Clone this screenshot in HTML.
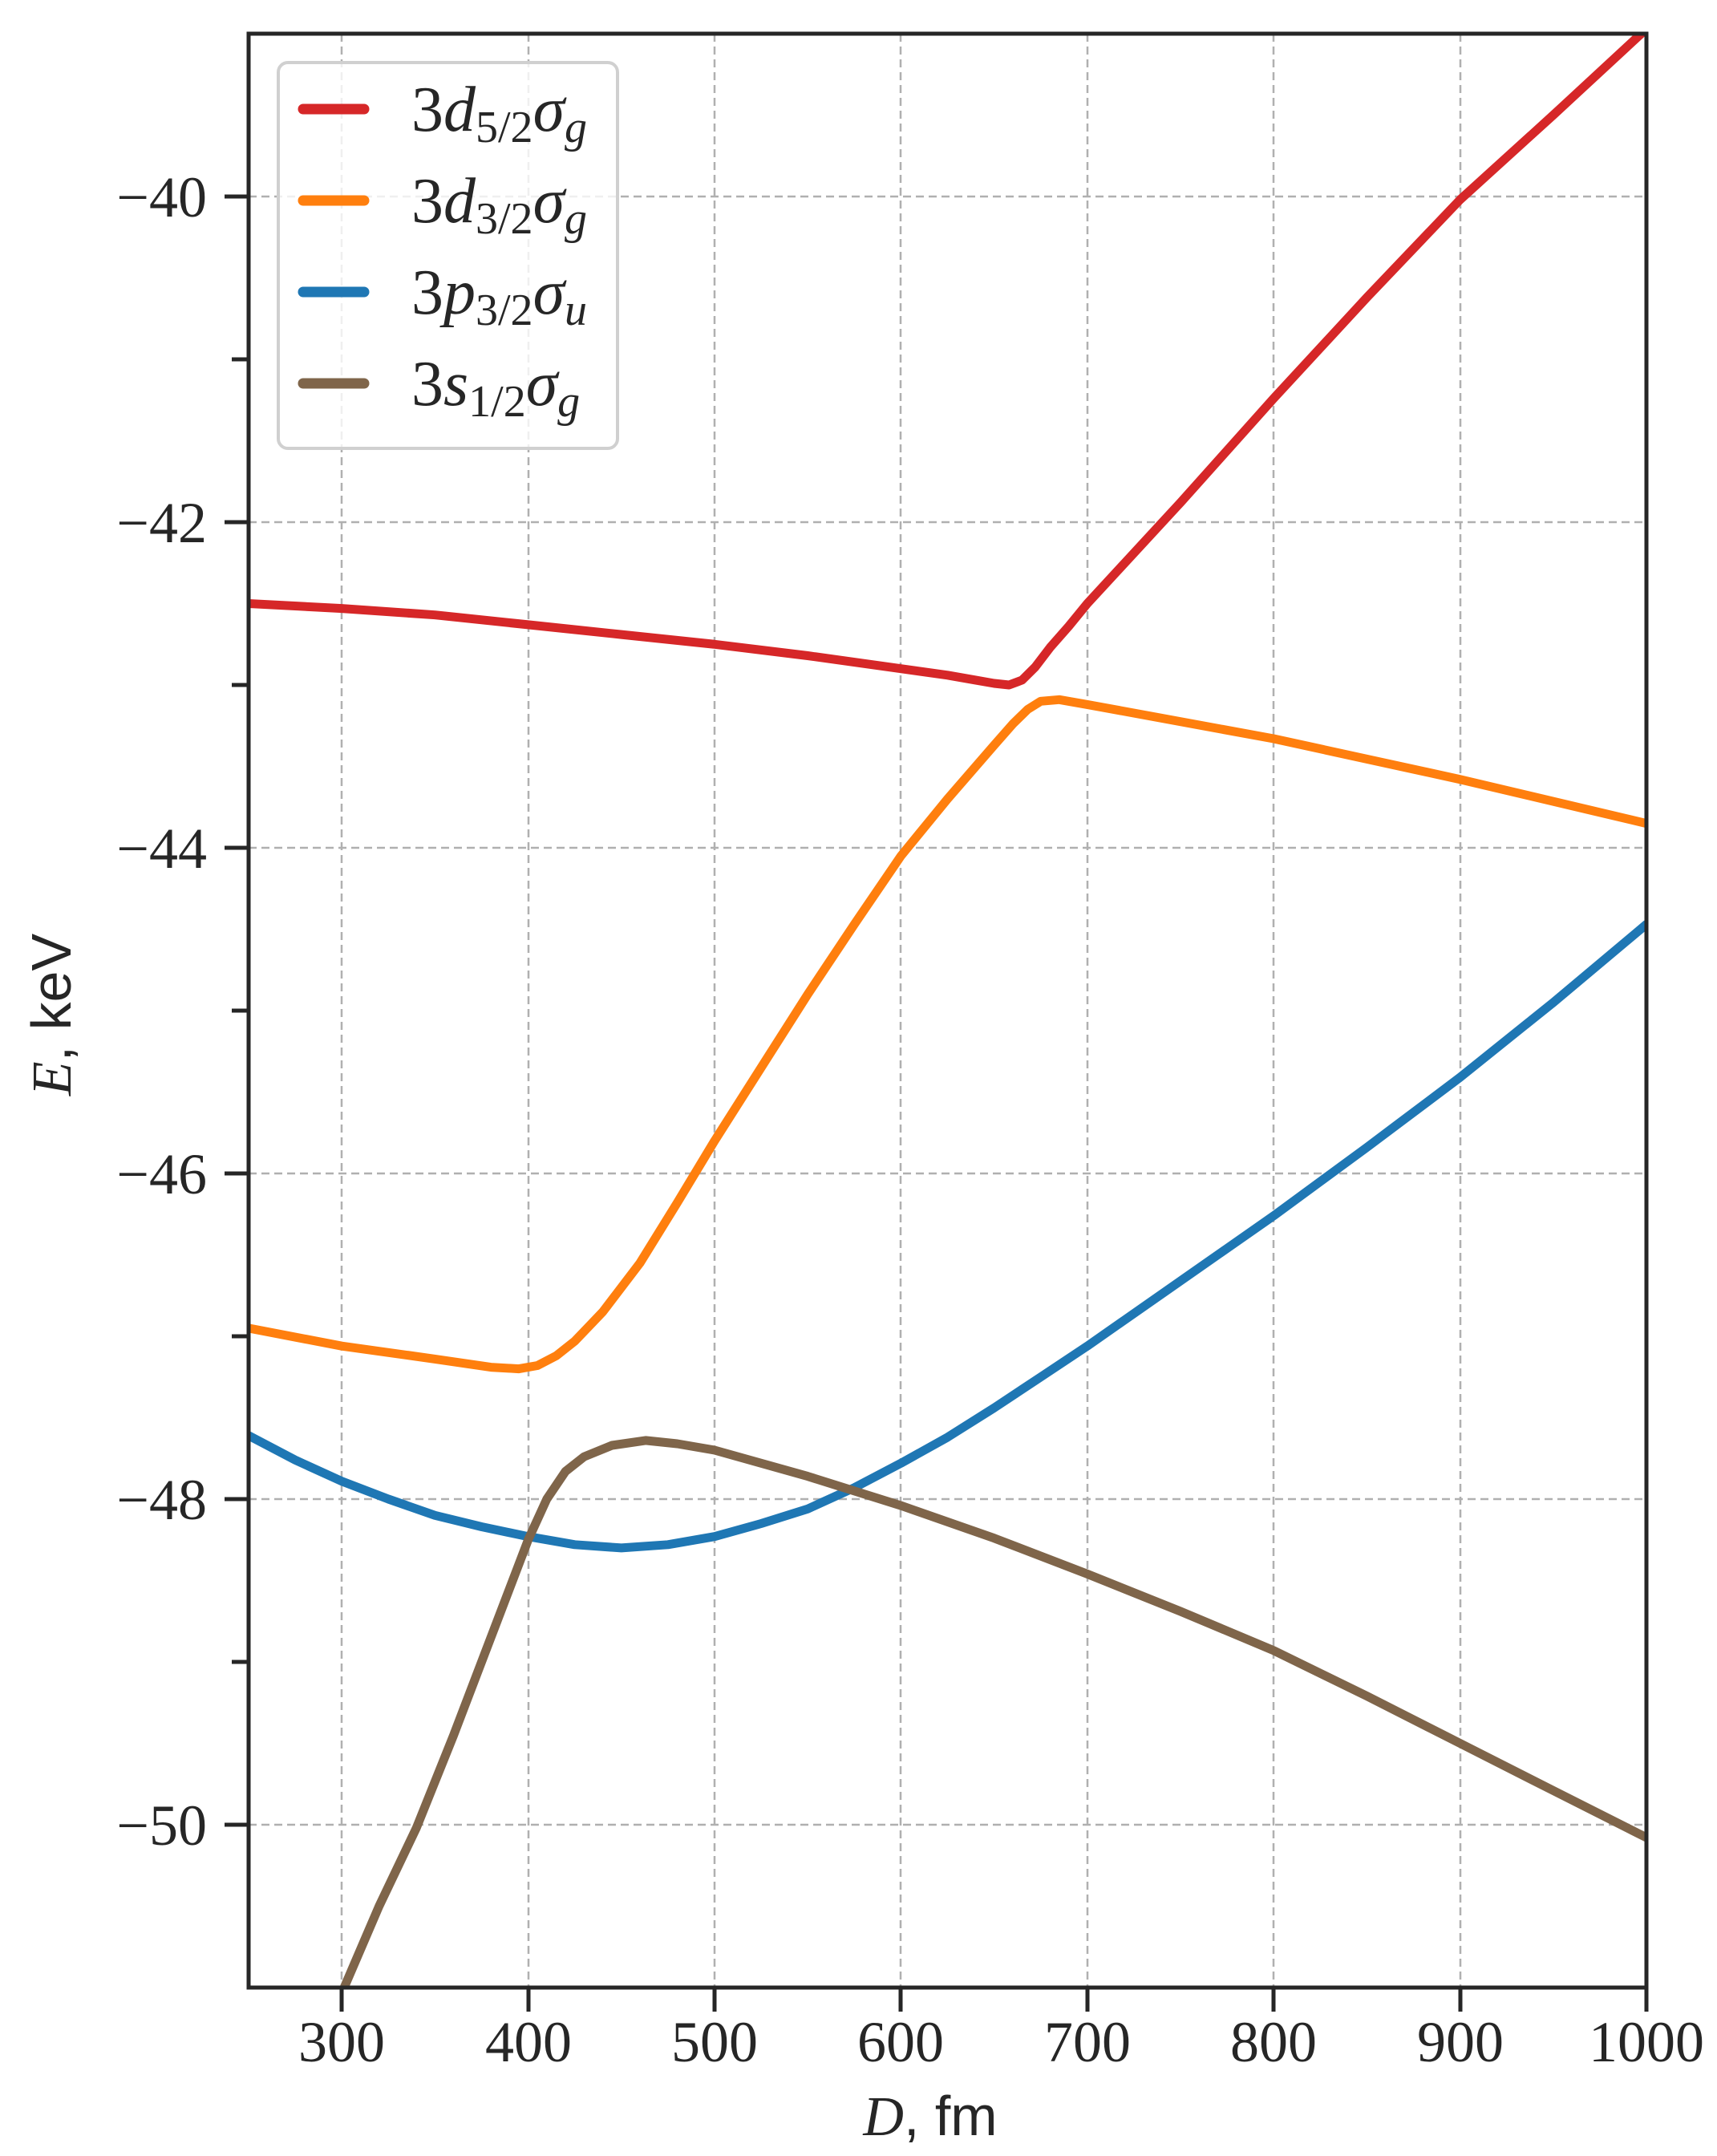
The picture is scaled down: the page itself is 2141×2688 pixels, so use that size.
<!DOCTYPE html>
<html><head><meta charset="utf-8"><style>
html,body{margin:0;padding:0;background:#fff;}
svg{display:block;}
text{font-family:"Liberation Serif","DejaVu Serif",serif;fill:#262626;}
</style></head><body>
<svg width="2141" height="2688" viewBox="0 0 2141 2688" xmlns="http://www.w3.org/2000/svg">
<defs><clipPath id="c"><rect x="310" y="42" width="1743" height="2436"/></clipPath></defs>
<g stroke="#b0b0b0" stroke-width="2.5" stroke-dasharray="10,6" fill="none">
<line x1="426" y1="42" x2="426" y2="2478"/><line x1="659" y1="42" x2="659" y2="2478"/>
<line x1="891" y1="42" x2="891" y2="2478"/><line x1="1123" y1="42" x2="1123" y2="2478"/>
<line x1="1356" y1="42" x2="1356" y2="2478"/><line x1="1588" y1="42" x2="1588" y2="2478"/>
<line x1="1821" y1="42" x2="1821" y2="2478"/>
<line x1="310" y1="245" x2="2053" y2="245"/><line x1="310" y1="651" x2="2053" y2="651"/>
<line x1="310" y1="1057" x2="2053" y2="1057"/><line x1="310" y1="1463" x2="2053" y2="1463"/>
<line x1="310" y1="1869" x2="2053" y2="1869"/><line x1="310" y1="2275" x2="2053" y2="2275"/>
</g>
<g clip-path="url(#c)" fill="none" stroke-width="11" stroke-linejoin="round" stroke-linecap="round">
<polyline stroke="#d62728" points="310,752.5 426.2,758.6 542.4,766.7 658.6,778.9 774.8,791.1 891,803.3 1007.2,817.5 1123.4,833.7 1181.5,841.8 1216.4,847.9 1239.6,852 1258.2,854 1274.5,847.9 1290.8,831.7 1309.4,807.3 1332.6,780.9 1355.8,752.5 1472,626.6 1588.2,496.7 1704.4,370.9 1820.6,249 1936.8,143.5 2053,36"/>
<polyline stroke="#ff7f0e" points="310,1655.9 426.2,1678.2 542.4,1694.4 612.1,1704.6 647,1706.6 670.2,1702.5 693.5,1690.4 716.7,1672.1 751.6,1635.6 798,1574.7 844.5,1499.5 891,1422.4 949.1,1331 1007.2,1239.7 1065.3,1152.4 1123.4,1067.2 1181.5,996.1 1239.6,929.1 1262.8,902.7 1281.4,884.5 1297.7,874.3 1320.9,872.3 1355.8,878.4 1588.2,921 1820.6,971.7 2053,1026.6"/>
<polyline stroke="#1f77b4" points="310,1789.8 368.1,1820.3 426.2,1846.7 484.3,1869 542.4,1889.3 600.5,1903.5 658.6,1915.7 716.7,1925.8 774.8,1929.9 832.9,1925.8 891,1915.7 949.1,1899.5 1007.2,1881.2 1065.3,1854.8 1123.4,1824.3 1181.5,1791.9 1239.6,1755.3 1297.7,1716.8 1355.8,1678.2 1472,1597 1588.2,1515.8 1704.4,1430.5 1820.6,1343.2 1936.8,1249.9 2053,1152.4"/>
<polyline stroke="#7f654a" points="424,2490 472.7,2376.5 519.2,2279 565.6,2163.4 612.1,2041.6 658.6,1919.8 681.8,1869 705.1,1834.5 728.3,1816.2 763.2,1802 805,1795.9 844.5,1800 891,1808 1007.2,1840.6 1123.4,1877.1 1239.6,1917.7 1355.8,1962.4 1472,2009 1588.2,2057.8 1704.4,2114.6 1820.6,2173.5 1936.8,2232.4 2053,2291"/>
</g>
<!-- legend -->
<rect x="347" y="78" width="423" height="481" rx="12" fill="#fff" fill-opacity="0.8" stroke="#d0d0d0" stroke-width="4"/>
<g stroke-width="13" stroke-linecap="round">
<line x1="378" y1="136" x2="454" y2="136" stroke="#d62728"/>
<line x1="378" y1="250" x2="454" y2="250" stroke="#ff7f0e"/>
<line x1="378" y1="364" x2="454" y2="364" stroke="#1f77b4"/>
<line x1="378" y1="478" x2="454" y2="478" stroke="#7f654a"/>
</g>
<g font-size="80">
<text x="513" y="163">3<tspan font-style="italic">d</tspan><tspan font-size="56" dy="14">5/2</tspan><tspan font-style="italic" dy="-14">σ</tspan><tspan font-style="italic" font-size="56" dy="14">g</tspan></text>
<text x="513" y="277">3<tspan font-style="italic">d</tspan><tspan font-size="56" dy="14">3/2</tspan><tspan font-style="italic" dy="-14">σ</tspan><tspan font-style="italic" font-size="56" dy="14">g</tspan></text>
<text x="513" y="391">3<tspan font-style="italic">p</tspan><tspan font-size="56" dy="14">3/2</tspan><tspan font-style="italic" dy="-14">σ</tspan><tspan font-style="italic" font-size="56" dy="14">u</tspan></text>
<text x="513" y="505">3<tspan font-style="italic">s</tspan><tspan font-size="56" dy="14">1/2</tspan><tspan font-style="italic" dy="-14">σ</tspan><tspan font-style="italic" font-size="56" dy="14">g</tspan></text>
</g>
<!-- spines -->
<rect x="310" y="42" width="1743" height="2436" fill="none" stroke="#262626" stroke-width="5"/>
<g stroke="#262626" stroke-width="5">
<line x1="280" y1="245" x2="310" y2="245"/><line x1="280" y1="651" x2="310" y2="651"/>
<line x1="280" y1="1057" x2="310" y2="1057"/><line x1="280" y1="1463" x2="310" y2="1463"/>
<line x1="280" y1="1869" x2="310" y2="1869"/><line x1="280" y1="2275" x2="310" y2="2275"/>
<line x1="289" y1="448" x2="310" y2="448"/><line x1="289" y1="854" x2="310" y2="854"/>
<line x1="289" y1="1260" x2="310" y2="1260"/><line x1="289" y1="1666" x2="310" y2="1666"/>
<line x1="289" y1="2072" x2="310" y2="2072"/>
<line x1="426" y1="2478" x2="426" y2="2508"/><line x1="659" y1="2478" x2="659" y2="2508"/>
<line x1="891" y1="2478" x2="891" y2="2508"/><line x1="1123" y1="2478" x2="1123" y2="2508"/>
<line x1="1356" y1="2478" x2="1356" y2="2508"/><line x1="1588" y1="2478" x2="1588" y2="2508"/>
<line x1="1821" y1="2478" x2="1821" y2="2508"/><line x1="2053" y1="2478" x2="2053" y2="2508"/>
</g>
<g font-size="72" text-anchor="end">
<text x="258" y="270">−40</text><text x="258" y="676">−42</text><text x="258" y="1082">−44</text>
<text x="258" y="1488">−46</text><text x="258" y="1894">−48</text><text x="258" y="2300">−50</text>
</g>
<g font-size="72" text-anchor="middle">
<text x="426" y="2570">300</text><text x="659" y="2570">400</text><text x="891" y="2570">500</text>
<text x="1123" y="2570">600</text><text x="1356" y="2570">700</text><text x="1588" y="2570">800</text>
<text x="1821" y="2570">900</text><text x="2053" y="2570">1000</text>
</g>
<text x="1160" y="2662" font-size="70" text-anchor="middle"><tspan font-style="italic">D</tspan><tspan font-family="Liberation Sans, sans-serif">, fm</tspan></text>
<text transform="translate(88,1265) rotate(-90)" font-size="70" text-anchor="middle"><tspan font-style="italic">E</tspan><tspan font-family="Liberation Sans, sans-serif">, keV</tspan></text>
</svg>
</body></html>
